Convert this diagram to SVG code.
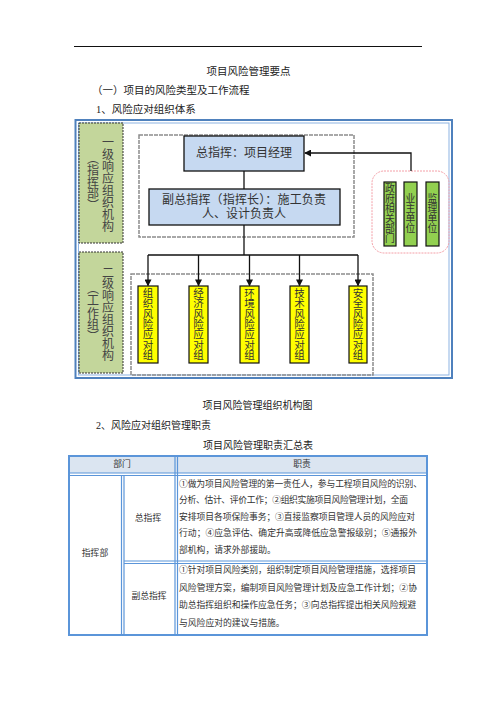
<svg xmlns="http://www.w3.org/2000/svg" width="496" height="702" viewBox="0 0 496 702">
<defs>
<style>
text{font-family:"Liberation Serif","Noto Sans CJK SC",serif;fill:#222}
.h{font-size:10.5px}
.d{font-size:12px;fill:#333}
.v{font-size:12px;fill:#444;text-anchor:middle}
.y{font-size:10.5px;fill:#333;text-anchor:middle}
.g{font-size:9.8px;fill:#333;text-anchor:middle}
.t{font-size:8.8px;fill:#333}
.c{text-anchor:middle}
.frame{fill:none;stroke:#8c8c8c;stroke-width:1.5;stroke-dasharray:4 1}
.lvl{fill:#c3d69b;stroke:#333;stroke-width:1;stroke-dasharray:2 1}
.blue{fill:#c6d9f1;stroke:#111;stroke-width:1.3}
.yel{fill:#ffff00;stroke:#111;stroke-width:1.2}
.grn{fill:#92d050;stroke:#111;stroke-width:1.2}
.ln{fill:none;stroke:#111;stroke-width:1.3}
.tb{fill:none;stroke:#5b95d9;stroke-width:1.2}
</style>
<marker id="ah" viewBox="0 0 8 8" refX="7" refY="4" markerWidth="7" markerHeight="7" orient="auto" markerUnits="userSpaceOnUse">
<path d="M0,0 L8,4 L0,8 z" fill="#111"/>
</marker>
</defs>
<rect width="496" height="702" fill="#fff"/>
<line x1="74" y1="46.5" x2="422" y2="46.5" stroke="#111" stroke-width="1"/>
<text class="h c" x="248.5" y="74.5">项目风险管理要点</text>
<text class="h" x="92" y="93.5">（一）项目的风险类型及工作流程</text>
<text class="h" x="96" y="113">1、风险应对组织体系</text>

<g id="outer-frame">
<rect x="75.5" y="120" width="376.5" height="258" fill="none" stroke="#4f81bd" stroke-width="2"/>
<rect x="78.5" y="123" width="370.5" height="252" fill="none" stroke="#8db3e2" stroke-width="1"/>
</g>
<g id="frames">
<rect class="frame" x="139" y="135" width="215" height="102"/>
<rect class="frame" x="131" y="274" width="242" height="101"/>
</g>

<g id="level1">
<rect class="lvl" x="79" y="123" width="44" height="120"/>
<text class="v" x="108 108 108 108 108 108 108 108" y="146.5 158.6 170.7 182.8 194.9 207 219.1 231.2">一级响应组织机构</text>
<text class="v" x="93 93 93 93 93" y="163 175 186.5 198 210">︵指挥部︶</text>
</g>
<g id="level2">
<rect class="lvl" x="79" y="252" width="44" height="121"/>
<text class="v" x="108 108 108 108 108 108 108 108" y="276.5 288.4 300.3 312.2 324.1 336 347.9 359.8">二级响应组织机构</text>
<text class="v" x="93 93 93 93 93" y="293 305 317.5 329 341">︵工作组︶</text>
</g>

<g id="commander">
<rect class="blue" x="184" y="136" width="120" height="35"/>
<text class="d c" x="244" y="156.5">总指挥：项目经理</text>
</g>
<g id="deputy">
<rect class="blue" x="149" y="189" width="191" height="36"/>
<text class="d" x="162" y="203.5" textLength="164">副总指挥（指挥长）：施工负责</text>
<text class="d c" x="244" y="217.5">人、设计负责人</text>
</g>

<g id="external">
<rect x="372" y="171" width="77" height="82" rx="12" ry="12" fill="none" stroke="#f4a0a8" stroke-width="1" stroke-dasharray="2 1"/>
</g>
<g id="gov">
<rect class="grn" x="384" y="182" width="12" height="64"/>
<text class="g" x="390 390 390 390 390 390" y="191.8 201.8 211.8 221.8 231.8 241.8">政府相关部门</text>
</g>
<g id="owner">
<rect class="grn" x="404" y="182" width="13" height="64"/>
<text class="g" x="410.5 410.5 410.5 410.5" y="201.8 211.8 221.8 231.8">业主单位</text>
</g>
<g id="supervisor">
<rect class="grn" x="426" y="182" width="13" height="64"/>
<text class="g" x="432.5 432.5 432.5 432.5" y="201.8 211.8 221.8 231.8">监理单位</text>
</g>

<g id="team-org">
<rect class="yel" x="138" y="286" width="20" height="77"/>
<text class="y" x="148 148 148 148 148 148 148" y="297 307.3 317.7 328 338.3 348.7 359">组织风险应对组</text>
</g>
<g id="team-econ">
<rect class="yel" x="189" y="286" width="19" height="77"/>
<text class="y" x="198.5 198.5 198.5 198.5 198.5 198.5 198.5" y="297 307.3 317.7 328 338.3 348.7 359">经济风险应对组</text>
</g>
<g id="team-env">
<rect class="yel" x="240" y="286" width="19" height="77"/>
<text class="y" x="249.5 249.5 249.5 249.5 249.5 249.5 249.5" y="297 307.3 317.7 328 338.3 348.7 359">环境风险应对组</text>
</g>
<g id="team-tech">
<rect class="yel" x="290" y="286" width="19" height="77"/>
<text class="y" x="299.5 299.5 299.5 299.5 299.5 299.5 299.5" y="297 307.3 317.7 328 338.3 348.7 359">技术风险应对组</text>
</g>
<g id="team-safe">
<rect class="yel" x="349" y="286" width="18" height="77"/>
<text class="y" x="358 358 358 358 358 358 358" y="297 307.3 317.7 328 338.3 348.7 359">安全风险应对组</text>
</g>

<g id="connectors">
<line class="ln" x1="244" y1="171" x2="244" y2="189"/>
<polyline class="ln" points="411,171 411,153 305,153" marker-end="url(#ah)"/>
<line class="ln" x1="244" y1="225" x2="244" y2="255"/>
<line class="ln" x1="148" y1="255" x2="358" y2="255"/>
<line class="ln" x1="148" y1="255" x2="148" y2="285.5" marker-end="url(#ah)"/>
<line class="ln" x1="198.5" y1="255" x2="198.5" y2="285.5" marker-end="url(#ah)"/>
<line class="ln" x1="249.5" y1="255" x2="249.5" y2="285.5" marker-end="url(#ah)"/>
<line class="ln" x1="299.5" y1="255" x2="299.5" y2="285.5" marker-end="url(#ah)"/>
<line class="ln" x1="358" y1="255" x2="358" y2="285.5" marker-end="url(#ah)"/>
</g>

<text class="h c" x="257.5" y="409" style="font-size:10px">项目风险管理组织机构图</text>
<text class="h" x="96" y="429" style="font-size:10px">2、风险应对组织管理职责</text>
<text class="h c" x="258" y="449" style="font-size:10px">项目风险管理职责汇总表</text>

<g id="table">
<rect x="70" y="457" width="356" height="16" fill="#dbe5f1"/>
<rect x="69" y="456" width="358" height="179" fill="none" stroke="#5b95d9" stroke-width="2"/>
<line class="tb" x1="69" y1="473" x2="427" y2="473"/>
<line class="tb" x1="69" y1="475.5" x2="427" y2="475.5"/>
<line class="tb" x1="175" y1="456" x2="175" y2="635"/>
<line class="tb" x1="177.5" y1="456" x2="177.5" y2="635"/>
<line class="tb" x1="121.5" y1="475.5" x2="121.5" y2="635"/>
<line class="tb" x1="124" y1="475.5" x2="124" y2="635"/>
<line class="tb" x1="124" y1="561" x2="427" y2="561"/>
<line class="tb" x1="124" y1="563.5" x2="427" y2="563.5"/>
<text class="t c" x="122" y="466.5">部门</text>
<text class="t c" x="302" y="466.5">职责</text>
<text class="t c" x="95" y="555.5">指挥部</text>
<text class="t c" x="148" y="520.5">总指挥</text>
<text class="t c" x="149" y="598.5">副总指挥</text>
<text class="t" x="179" y="486.5" textLength="243">①做为项目风险管理的第一责任人，参与工程项目风险的识别、</text>
<text class="t" x="179" y="503" textLength="229">分析、估计、评价工作；②组织实施项目风险管理计划，全面</text>
<text class="t" x="179" y="519.5" textLength="236">安排项目各项保险事务；③直接监察项目管理人员的风险应对</text>
<text class="t" x="179" y="536" textLength="238">行动；④应急评估、确定升高或降低应急警报级别；⑤通报外</text>
<text class="t" x="179" y="552.5">部机构，请求外部援助。</text>
<text class="t" x="179" y="573" textLength="237">①针对项目风险类别，组织制定项目风险管理措施，选择项目</text>
<text class="t" x="179" y="590.5" textLength="238">风险管理方案，编制项目风险管理计划及应急工作计划；②协</text>
<text class="t" x="179" y="608" textLength="237">助总指挥组织和操作应急任务；③向总指挥提出相关风险规避</text>
<text class="t" x="179" y="625.5">与风险应对的建议与措施。</text>
</g>
</svg>
